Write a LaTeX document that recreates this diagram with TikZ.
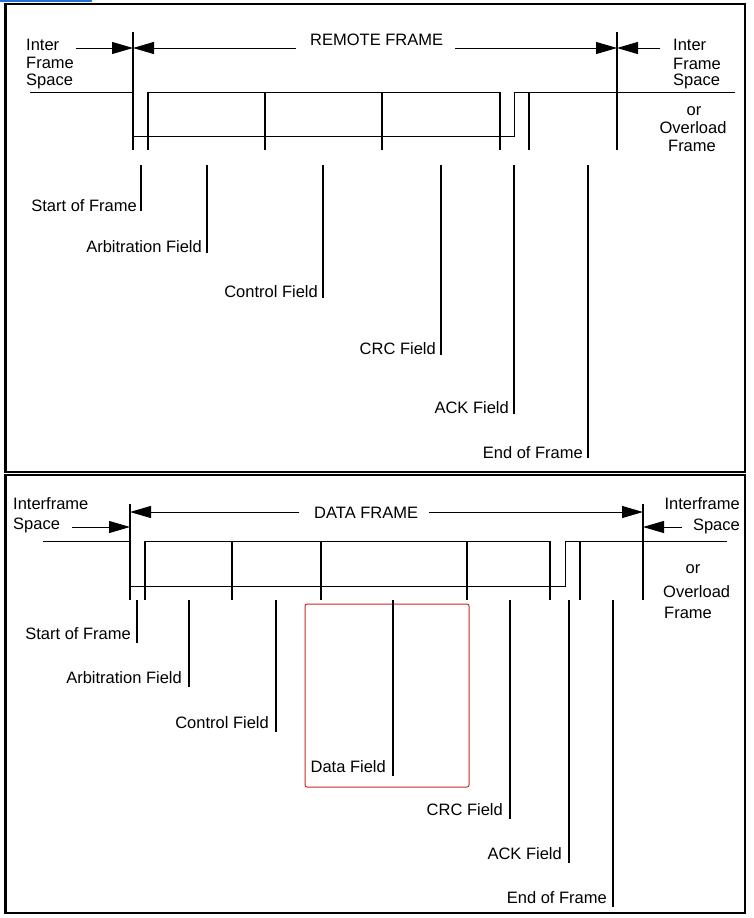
\documentclass[tikz,border=0pt]{standalone}
\usepackage{fontspec}
\setmainfont{Liberation Sans}
\usetikzlibrary{arrows.meta}
\definecolor{linkblue}{RGB}{40,110,210}
\definecolor{boxred}{RGB}{205,40,40}
% name, x, ytop, ybottom, baseline, gap, text
\newcommand\leaderlbl[7]{%
  \coordinate (#1t) at (#2,#3);
  \coordinate (#1b) at (#2,#4);
  \node[lbl, anchor=base east] (#1) at (#2-#6,#5) {#7};
  \draw[leader] (#1t) -- (#1b);
}
\begin{document}
\begin{tikzpicture}[x=1pt,y=-1pt,
  lbl/.style={inner sep=0pt, font=\fontsize{16.5}{18}\selectfont},
  sig/.style={line width=1pt},
  sep/.style={line width=1.2pt},
  tipline/.style={-{Triangle[length=21pt,width=12pt]}, line width=1pt},
  panel/.style={line width=2pt},
  leader/.style={line width=1.2pt},
]
\useasboundingbox (0,0) rectangle (753,918);
\fill[white] (0,0) rectangle (753,918);
% link remnant
\draw[linkblue, line width=2pt] (0,1) -- (92,1);

% panels
\draw[panel] (5,4) rectangle (745,472);
\draw[panel] (5,475) rectangle (745,913);
\draw[line width=3pt] (5,3) -- (5,473);
\draw[line width=3pt] (5,474) -- (5,914);

%================ REMOTE FRAME ================
\coordinate (rL) at (133,48);
\coordinate (rR) at (617,48);
\draw[sep] (133,32) -- (133,150);
\draw[sep] (617,32) -- (617,150);
\coordinate (rla) at (76,48);
\coordinate (rlb) at (296,48);
\coordinate (rra) at (455,48);
\coordinate (rrb) at (660,48);
\draw[tipline] (rla) -- (rL);
\draw[tipline] (rlb) -- (rL);
\draw[tipline] (rra) -- (rR);
\draw[tipline] (rrb) -- (rR);
\node[lbl, anchor=base west] (rtitle) at (310,45) {REMOTE FRAME};

\node[lbl, anchor=base west] (rifs1) at (26,50) {Inter};
\node[lbl, anchor=base west] (rifs2) at (26,68) {Frame};
\node[lbl, anchor=base west] (rifs3) at (26,85) {Space};
\node[lbl, anchor=base west] (rifsr1) at (673,50.5) {Inter};
\node[lbl, anchor=base west] (rifsr2) at (673,69) {Frame};
\node[lbl, anchor=base west] (rifsr3) at (673,85) {Space};
\node[lbl, anchor=base] (ror1) at (694,115) {or};
\node[lbl, anchor=base] (ror2) at (693,133) {Overload};
\node[lbl, anchor=base] (ror3) at (692,151.5) {Frame};

% waveform
\draw[sig] (30,92) -- (133,92);
\draw[sig] (148,92) -- (500,92);
\draw[sig] (133,136) -- (514,136) -- (514,92) -- (735,92);
\foreach \xx in {148,265,382,500,529}{\draw[sep] (\xx,92) -- (\xx,150);}

\leaderlbl{rsof}{141}{165}{211}{211.5}{4}{Start of Frame}
\leaderlbl{rarb}{207}{165}{253}{252.5}{5}{Arbitration Field}
\leaderlbl{rctl}{323}{165}{298}{297.5}{5}{Control Field}
\leaderlbl{rcrc}{441}{165}{355}{354.5}{5}{CRC Field}
\leaderlbl{rack}{514}{165}{414}{413.5}{5}{ACK Field}
\leaderlbl{reof}{588}{165}{458}{458}{5}{End of Frame}

%================ DATA FRAME ================
\coordinate (dL) at (130,512);
\coordinate (dLs) at (130,527);
\coordinate (dR) at (643,512);
\coordinate (dRs) at (643,527);
\draw[sep] (130,504) -- (130,600);
\draw[sep] (643,504) -- (643,600);
\coordinate (dla) at (72,527);
\coordinate (dlb) at (299,512);
\coordinate (dra) at (429,512);
\coordinate (drb) at (682,527);
\draw[tipline] (dla) -- (dLs);
\draw[tipline] (dlb) -- (dL);
\draw[tipline] (dra) -- (dR);
\draw[tipline] (drb) -- (dRs);
\node[lbl, anchor=base west] (dtitle) at (314,518) {DATA FRAME};

\node[lbl, anchor=base west] (difs1) at (13,509) {Interframe};
\node[lbl, anchor=base west] (difs2) at (13,529) {Space};
\node[lbl, anchor=base east] (difsr1) at (740,509) {Interframe};
\node[lbl, anchor=base east] (difsr2) at (740,530) {Space};
\node[lbl, anchor=base] (dor1) at (693,573) {or};
\node[lbl, anchor=base west] (dor2) at (663,597) {Overload};
\node[lbl, anchor=base west] (dor3) at (664,618) {Frame};

% waveform
\draw[sig] (43,541) -- (130,541);
\draw[sig] (145,541) -- (550,541);
\draw[sig] (130,586) -- (565,586) -- (565,541) -- (727,541);
\foreach \xx in {145,232,321,467,550,580}{\draw[sep] (\xx,541) -- (\xx,600);}

% highlight box
\draw[boxred, line width=1pt, rounded corners=2pt] (305,604) rectangle (469,787);

\leaderlbl{dsof}{137}{600}{643}{639.5}{6}{Start of Frame}
\leaderlbl{darb}{189}{600}{687}{683.5}{7}{Arbitration Field}
\leaderlbl{dctl}{276}{600}{732}{728}{7}{Control Field}
\leaderlbl{ddat}{393}{600}{776}{772}{7}{Data Field}
\leaderlbl{dcrc}{510}{600}{819}{815}{7}{CRC Field}
\leaderlbl{dack}{569}{600}{863}{859}{7}{ACK Field}
\leaderlbl{deof}{613}{600}{907}{903}{6}{End of Frame}
\end{tikzpicture}
\end{document}
